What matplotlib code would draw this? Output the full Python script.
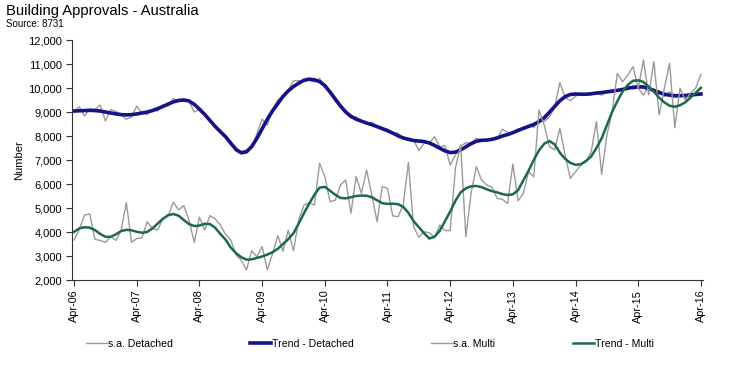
import numpy as np
import matplotlib
matplotlib.use("Agg")
import matplotlib.pyplot as plt

# monthly series Apr-06 .. Apr-16 (one row per year, Apr..Mar)
det_sa = [
    9040, 9220, 8830, 9120, 9100, 9290, 8620, 9100, 9020, 8900, 8700, 8790,
    9250, 8950, 8900, 9100, 9040, 9300, 9250, 9560, 9450, 9480, 9450, 9000,
    9100, 8900, 8620, 8350, 8150, 7950, 7700, 7350, 7350, 7420, 7500, 8100,
    8700, 8450, 9100, 9500, 9650, 9900, 10300, 10300, 10280, 10320, 10250, 10400,
    10050, 9800, 9450, 9200, 8950, 8750, 8800, 8600, 8500, 8580, 8400, 8250,
    8300, 8120, 8130, 7860, 7920, 7850, 7390, 7700, 7700, 7970, 7550, 7600,
    6790, 7200, 7580, 7720, 7700, 7900, 7850, 7820, 7850, 7900, 8280, 8150,
    8100, 8300, 8250, 8450, 8350, 8650, 8600, 8800, 9200, 10230, 9600, 9470,
    9650, 9800, 9700, 9720, 9800, 9700, 9850, 9800, 9950, 9900, 10100, 9950,
    10000, 9700, 10100, 9800, 9900, 9650, 9850, 9600, 9700, 9600, 9800, 9700,
    9800,
]
det_trend = [
    9040, 9050, 9060, 9070, 9060, 9040, 9000, 8960, 8920, 8890, 8880, 8890,
    8920, 8960, 9000, 9060, 9140, 9230, 9330, 9420, 9480, 9500, 9460, 9320,
    9120, 8900, 8650, 8400, 8180, 7970, 7700, 7440, 7300, 7340, 7560, 7900,
    8300, 8700, 9050, 9350, 9650, 9880, 10060, 10200, 10320, 10370, 10340, 10270,
    10100, 9830, 9540, 9250, 9000, 8820, 8700, 8620, 8540, 8470, 8390, 8310,
    8220, 8120, 8010, 7920, 7860, 7810, 7790, 7770, 7710, 7610, 7490, 7380,
    7310, 7330, 7420, 7550, 7680, 7780, 7820, 7830, 7860, 7920, 8000, 8060,
    8140, 8230, 8320, 8400, 8480, 8600, 8760, 8990, 9230, 9470, 9640, 9730,
    9750, 9740, 9740, 9760, 9790, 9810, 9840, 9870, 9900, 9940, 9990, 10030,
    10050, 10040, 9980, 9900, 9810, 9740, 9700, 9680, 9680, 9690, 9710, 9730,
    9750,
]
multi_sa = [
    3670, 4100, 4710, 4750, 3690, 3650, 3570, 3800, 3650, 4060, 5220, 3570,
    3730, 3760, 4430, 4150, 4080, 4560, 4670, 5240, 4920, 5100, 4500, 3570,
    4620, 4080, 4680, 4550, 4290, 3900, 3670, 3040, 2830, 2420, 3220, 2970,
    3390, 2420, 3110, 3850, 3200, 4080, 3220, 4500, 5120, 5220, 5120, 6860,
    6310, 5260, 5330, 5960, 6170, 4780, 6310, 5610, 6580, 5540, 4430, 5890,
    5820, 4670, 4640, 5120, 6890, 4220, 3780, 4010, 3970, 3780, 4290, 4060,
    4060, 6650, 7630, 3800, 5610, 6720, 6170, 5960, 5860, 5400, 5360, 5190,
    6830, 5300, 5600, 6510, 6300, 9080, 8460, 7560, 7420, 8320, 7210, 6230,
    6510, 6790, 6930, 7350, 8600, 6400, 8040, 9010, 10610, 10260, 10540, 10890,
    9990, 11170, 9710, 11100, 8880, 9990, 11030, 8350, 9990, 9500, 9780, 9990,
    10570,
]
multi_trend = [
    4010, 4150, 4200, 4180, 4080, 3920, 3800, 3800, 3900, 4040, 4090, 4070,
    4010, 3970, 4000, 4150, 4350, 4550, 4700, 4750, 4680, 4500, 4330, 4250,
    4270, 4340, 4330, 4180, 3920, 3680, 3350, 3120, 2950, 2850, 2860, 2920,
    2980, 3060, 3160, 3300, 3500, 3700, 3950, 4350, 4780, 5180, 5550, 5850,
    5880, 5720, 5550, 5420, 5400, 5450, 5500, 5520, 5510, 5450, 5320, 5200,
    5170, 5180, 5160, 5050, 4800, 4450, 4200, 3950, 3730, 3800, 4050, 4450,
    4850, 5300, 5650, 5820, 5900, 5920, 5870, 5780, 5700, 5650, 5580, 5540,
    5570, 5740, 6150, 6550, 7000, 7400, 7680, 7790, 7650, 7300, 7050, 6880,
    6800, 6820, 6960, 7150, 7500, 7900, 8450, 9000, 9450, 9850, 10130, 10300,
    10320, 10250, 10050, 9850, 9600, 9400, 9260, 9220, 9280, 9400, 9600, 9800,
    10010,
]
tick_labels = ["Apr-06", "Apr-07", "Apr-08", "Apr-09", "Apr-10", "Apr-11",
               "Apr-12", "Apr-13", "Apr-14", "Apr-15", "Apr-16"]

plt.rcParams["font.family"] = ["Liberation Sans", "DejaVu Sans"]

x = np.arange(len(det_sa))

fig = plt.figure(figsize=(7.29, 3.71), dpi=100)
ax = fig.add_axes([72 / 729, 1 - 280 / 371, 631 / 729, 240 / 371])

l1, = ax.plot(x, det_sa, color="#9a9a9a", lw=1.0, label="s.a. Detached")
l2, = ax.plot(x, det_trend, color="#16128a", lw=2.6, label="Trend - Detached")
l3, = ax.plot(x, multi_sa, color="#9a9a9a", lw=1.0, label="s.a. Multi")
l4, = ax.plot(x, multi_trend, color="#1c6a48", lw=1.8, label="Trend - Multi")

ax.set_xlim(-0.4, len(x) - 0.6)
ax.set_ylim(2000, 12000)
ax.set_yticks(np.arange(2000, 12001, 1000))
ax.set_yticklabels([f"{v:,}" for v in range(2000, 12001, 1000)])
ax.set_xticks(np.arange(0, len(x), 12))
ax.set_xticklabels(tick_labels, rotation=90)
ax.tick_params(axis="y", labelsize=8, length=4, width=0.8, color="#333333", pad=3)
ax.tick_params(axis="x", labelsize=7.8, length=4, width=0.8, color="#333333", pad=3)
for s in ("top", "right"):
    ax.spines[s].set_visible(False)
for s in ("left", "bottom"):
    ax.spines[s].set_color("#333333")
ax.set_ylabel("Number", fontsize=8, labelpad=3)

fig.text(6 / 729, 1 - 11 / 371, "Building Approvals - Australia", fontsize=10.7,
         va="center", ha="left")
fig.text(6 / 729, 1 - 24 / 371, "Source: 8731", fontsize=7, va="center", ha="left")

# legend entries placed one by one, as in the source layout
leg_x = [86, 250, 431, 573]
for h, lx in zip([l1, l2, l3, l4], leg_x):
    fig.legend([h], [h.get_label()], loc="center left",
               bbox_to_anchor=(lx / 729, 1 - 344 / 371), frameon=False,
               fontsize=7.6, handlelength=2.0, handletextpad=0.1,
               borderpad=0, borderaxespad=0)

fig.savefig("out.png", dpi=100)
